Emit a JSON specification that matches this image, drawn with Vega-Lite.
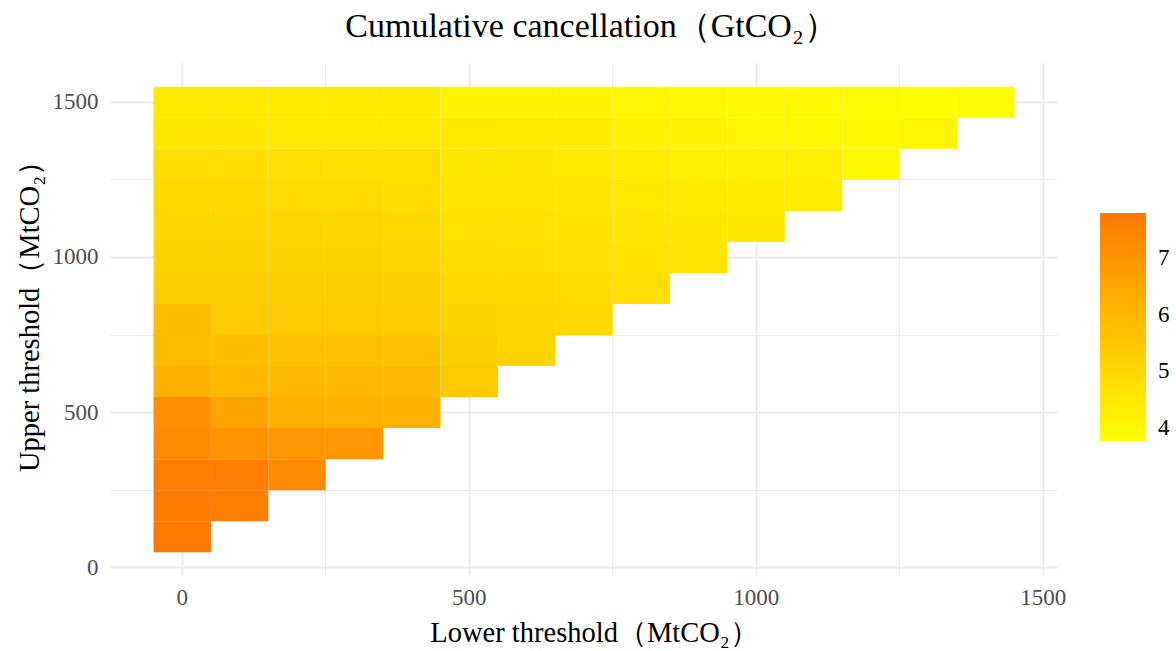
{
  "$schema": "https://vega.github.io/schema/vega-lite/v6.json",
  "width": 947,
  "height": 512,
  "autosize": {"type": "none"},
  "padding": {"left": 110, "top": 63, "right": 119, "bottom": 76},
  "background": "white",
  "title": {
    "text": "Cumulative cancellation（GtCO₂）",
    "font": "Liberation Serif",
    "fontSize": 34,
    "fontWeight": "normal",
    "color": "black",
    "anchor": "middle",
    "frame": "group",
    "offset": 19,
    "dx": 8
  },
  "data": {
    "values": [
      {"lower": 0, "upper": 1500, "value": 4.45}, {"lower": 0, "upper": 1400, "value": 4.51}, {"lower": 0, "upper": 1300, "value": 4.81}, {"lower": 0, "upper": 1200, "value": 4.93}, {"lower": 0, "upper": 1100, "value": 5.05}, {"lower": 0, "upper": 1000, "value": 5.20}, {"lower": 0, "upper": 900, "value": 5.32}, {"lower": 0, "upper": 800, "value": 5.77}, {"lower": 0, "upper": 700, "value": 5.82}, {"lower": 0, "upper": 600, "value": 6.21}, {"lower": 0, "upper": 500, "value": 7.19}, {"lower": 0, "upper": 400, "value": 7.31}, {"lower": 0, "upper": 300, "value": 7.67}, {"lower": 0, "upper": 200, "value": 7.73}, {"lower": 0, "upper": 100, "value": 7.79},
      {"lower": 100, "upper": 1500, "value": 4.45}, {"lower": 100, "upper": 1400, "value": 4.51}, {"lower": 100, "upper": 1300, "value": 4.81}, {"lower": 100, "upper": 1200, "value": 4.93}, {"lower": 100, "upper": 1100, "value": 5.05}, {"lower": 100, "upper": 1000, "value": 5.17}, {"lower": 100, "upper": 900, "value": 5.29}, {"lower": 100, "upper": 800, "value": 5.41}, {"lower": 100, "upper": 700, "value": 5.77}, {"lower": 100, "upper": 600, "value": 6.00}, {"lower": 100, "upper": 500, "value": 6.60}, {"lower": 100, "upper": 400, "value": 7.02}, {"lower": 100, "upper": 300, "value": 7.67}, {"lower": 100, "upper": 200, "value": 7.64},
      {"lower": 200, "upper": 1500, "value": 4.40}, {"lower": 200, "upper": 1400, "value": 4.45}, {"lower": 200, "upper": 1300, "value": 4.78}, {"lower": 200, "upper": 1200, "value": 4.90}, {"lower": 200, "upper": 1100, "value": 5.02}, {"lower": 200, "upper": 1000, "value": 5.14}, {"lower": 200, "upper": 900, "value": 5.29}, {"lower": 200, "upper": 800, "value": 5.41}, {"lower": 200, "upper": 700, "value": 5.74}, {"lower": 200, "upper": 600, "value": 5.94}, {"lower": 200, "upper": 500, "value": 6.24}, {"lower": 200, "upper": 400, "value": 6.99}, {"lower": 200, "upper": 300, "value": 7.31},
      {"lower": 300, "upper": 1500, "value": 4.40}, {"lower": 300, "upper": 1400, "value": 4.45}, {"lower": 300, "upper": 1300, "value": 4.78}, {"lower": 300, "upper": 1200, "value": 4.90}, {"lower": 300, "upper": 1100, "value": 5.02}, {"lower": 300, "upper": 1000, "value": 5.14}, {"lower": 300, "upper": 900, "value": 5.29}, {"lower": 300, "upper": 800, "value": 5.41}, {"lower": 300, "upper": 700, "value": 5.74}, {"lower": 300, "upper": 600, "value": 5.94}, {"lower": 300, "upper": 500, "value": 6.21}, {"lower": 300, "upper": 400, "value": 6.99},
      {"lower": 400, "upper": 1500, "value": 4.40}, {"lower": 400, "upper": 1400, "value": 4.45}, {"lower": 400, "upper": 1300, "value": 4.78}, {"lower": 400, "upper": 1200, "value": 4.87}, {"lower": 400, "upper": 1100, "value": 4.99}, {"lower": 400, "upper": 1000, "value": 5.11}, {"lower": 400, "upper": 900, "value": 5.26}, {"lower": 400, "upper": 800, "value": 5.38}, {"lower": 400, "upper": 700, "value": 5.71}, {"lower": 400, "upper": 600, "value": 5.91}, {"lower": 400, "upper": 500, "value": 6.18},
      {"lower": 500, "upper": 1500, "value": 4.16}, {"lower": 500, "upper": 1400, "value": 4.45}, {"lower": 500, "upper": 1300, "value": 4.51}, {"lower": 500, "upper": 1200, "value": 4.63}, {"lower": 500, "upper": 1100, "value": 4.75}, {"lower": 500, "upper": 1000, "value": 4.87}, {"lower": 500, "upper": 900, "value": 4.99}, {"lower": 500, "upper": 800, "value": 5.17}, {"lower": 500, "upper": 700, "value": 5.29}, {"lower": 500, "upper": 600, "value": 5.41},
      {"lower": 600, "upper": 1500, "value": 4.16}, {"lower": 600, "upper": 1400, "value": 4.43}, {"lower": 600, "upper": 1300, "value": 4.51}, {"lower": 600, "upper": 1200, "value": 4.63}, {"lower": 600, "upper": 1100, "value": 4.75}, {"lower": 600, "upper": 1000, "value": 4.81}, {"lower": 600, "upper": 900, "value": 4.93}, {"lower": 600, "upper": 800, "value": 5.02}, {"lower": 600, "upper": 700, "value": 5.11},
      {"lower": 700, "upper": 1500, "value": 4.16}, {"lower": 700, "upper": 1400, "value": 4.40}, {"lower": 700, "upper": 1300, "value": 4.45}, {"lower": 700, "upper": 1200, "value": 4.57}, {"lower": 700, "upper": 1100, "value": 4.69}, {"lower": 700, "upper": 1000, "value": 4.75}, {"lower": 700, "upper": 900, "value": 4.87}, {"lower": 700, "upper": 800, "value": 4.93},
      {"lower": 800, "upper": 1500, "value": 4.10}, {"lower": 800, "upper": 1400, "value": 4.22}, {"lower": 800, "upper": 1300, "value": 4.34}, {"lower": 800, "upper": 1200, "value": 4.45}, {"lower": 800, "upper": 1100, "value": 4.57}, {"lower": 800, "upper": 1000, "value": 4.69}, {"lower": 800, "upper": 900, "value": 4.78},
      {"lower": 900, "upper": 1500, "value": 3.98}, {"lower": 900, "upper": 1400, "value": 4.16}, {"lower": 900, "upper": 1300, "value": 4.28}, {"lower": 900, "upper": 1200, "value": 4.40}, {"lower": 900, "upper": 1100, "value": 4.51}, {"lower": 900, "upper": 1000, "value": 4.63},
      {"lower": 1000, "upper": 1500, "value": 3.98}, {"lower": 1000, "upper": 1400, "value": 4.10}, {"lower": 1000, "upper": 1300, "value": 4.28}, {"lower": 1000, "upper": 1200, "value": 4.40}, {"lower": 1000, "upper": 1100, "value": 4.51},
      {"lower": 1100, "upper": 1500, "value": 3.98}, {"lower": 1100, "upper": 1400, "value": 4.04}, {"lower": 1100, "upper": 1300, "value": 4.28}, {"lower": 1100, "upper": 1200, "value": 4.34},
      {"lower": 1200, "upper": 1500, "value": 3.92}, {"lower": 1200, "upper": 1400, "value": 3.98}, {"lower": 1200, "upper": 1300, "value": 4.04},
      {"lower": 1300, "upper": 1500, "value": 3.77}, {"lower": 1300, "upper": 1400, "value": 4.10},
      {"lower": 1400, "upper": 1500, "value": 3.86}
    ]
  },
  "mark": {"type": "rect"},
  "encoding": {
    "x": {
      "field": "lower",
      "type": "quantitative",
      "bin": {"step": 100, "extent": [-50, 1450], "nice": false},
      "scale": {"domain": [-125, 1525], "nice": false, "zero": false},
      "axis": {
        "title": "Lower threshold（MtCO₂）",
        "values": [0, 250, 500, 750, 1000, 1250, 1500],
        "labelExpr": "datum.value % 500 === 0 ? format(datum.value, 'd') : ''",
        "gridWidth": {"condition": {"test": "datum.value % 500 === 0", "value": 2}, "value": 1},
        "labelPadding": 11,
        "titlePadding": 9,
        "titleX": 484,
        "zindex": 0
      }
    },
    "y": {
      "field": "upper",
      "type": "quantitative",
      "bin": {"step": 100, "extent": [50, 1550], "nice": false},
      "scale": {"domain": [-25, 1625], "nice": false, "zero": false},
      "axis": {
        "title": "Upper threshold（MtCO₂）",
        "values": [0, 250, 500, 750, 1000, 1250, 1500],
        "labelExpr": "datum.value % 500 === 0 ? format(datum.value, 'd') : ''",
        "gridWidth": {"condition": {"test": "datum.value % 500 === 0", "value": 2}, "value": 1},
        "labelPadding": 12,
        "titlePadding": 8,
        "titleY": 246,
        "zindex": 0
      }
    },
    "color": {
      "field": "value",
      "type": "quantitative",
      "scale": {"range": ["#FFFF00", "#FF7800"], "interpolate": "lab", "nice": false, "zero": false},
      "legend": {
        "title": null,
        "orient": "none",
        "legendX": 990,
        "legendY": 150,
        "direction": "vertical",
        "gradientLength": 228,
        "gradientThickness": 46,
        "gradientStrokeWidth": 0,
        "values": [4, 5, 6, 7],
        "labelFont": "Liberation Serif",
        "labelFontSize": 23,
        "labelColor": "black",
        "labelOffset": 12,
        "padding": 0
      }
    }
  },
  "config": {
    "view": {"stroke": null},
    "axis": {
      "domain": false,
      "ticks": false,
      "tickSize": 0,
      "grid": true,
      "gridColor": "#EBEBEB",
      "labelFont": "Liberation Serif",
      "labelFontSize": 23,
      "labelColor": "#4D4D4D",
      "labelFlush": false,
      "labelOverlap": false,
      "titleFont": "Liberation Serif",
      "titleFontSize": 28.5,
      "titleFontWeight": "normal",
      "titleColor": "black",
      "zindex": 0
    }
  }
}
